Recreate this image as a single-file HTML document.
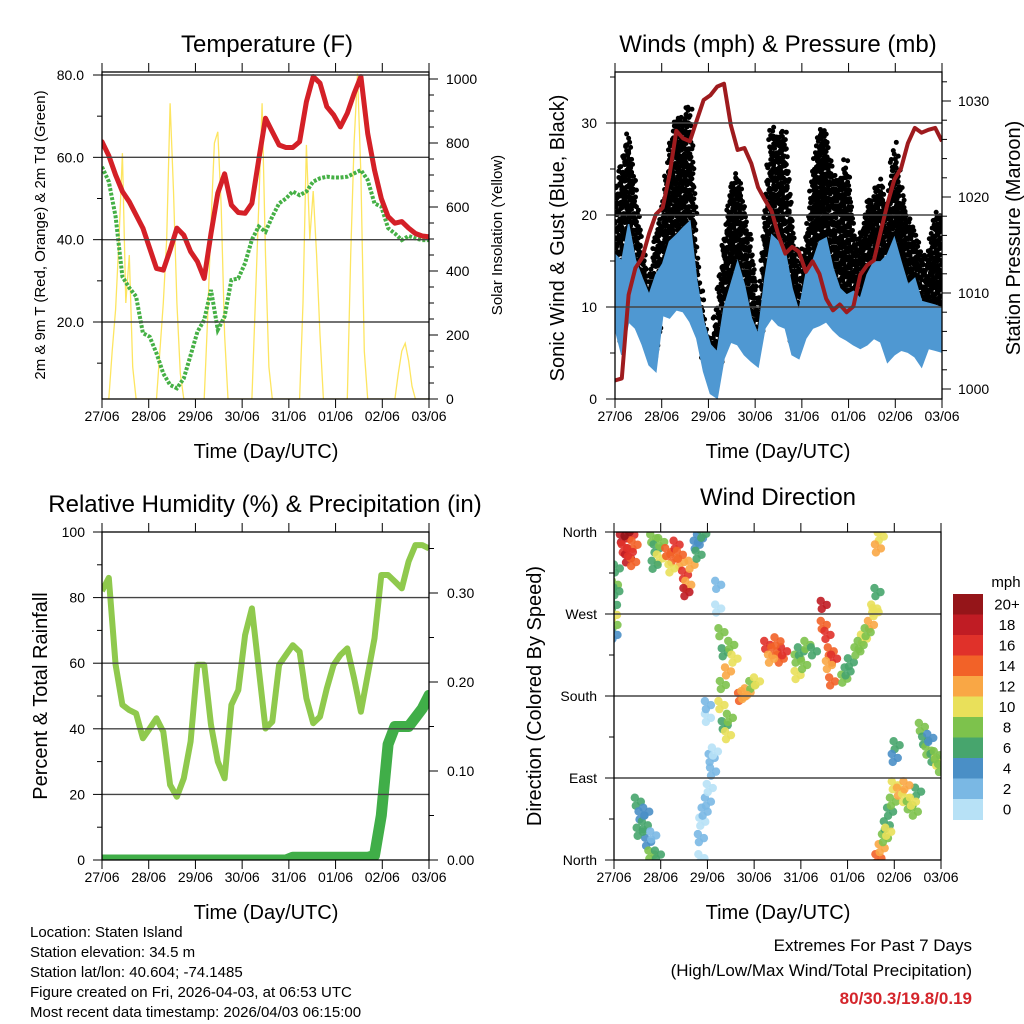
<!DOCTYPE html>
<html><head><meta charset="utf-8"><title>Station Meteogram</title>
<style>html,body{margin:0;padding:0;background:#fff;}svg{display:block;}</style></head>
<body>
<svg id="c" width="1024" height="1024" xmlns="http://www.w3.org/2000/svg" font-family="'Liberation Sans', Arial, sans-serif">
<rect width="1024" height="1024" fill="#fff"/>
<defs>
<clipPath id="cp1"><rect x="102" y="72" width="327" height="327"/></clipPath>
<clipPath id="cp2"><rect x="615" y="72" width="327" height="327"/></clipPath>
<clipPath id="cp3"><rect x="102" y="532" width="327" height="328"/></clipPath>
<clipPath id="cp4"><rect x="614" y="532" width="327" height="328"/></clipPath>
</defs>
<text x="267" y="52" font-size="24" text-anchor="middle">Temperature (F)</text>
<text x="778" y="52" font-size="24" text-anchor="middle">Winds (mph) &amp; Pressure (mb)</text>
<text x="265" y="512" font-size="24" text-anchor="middle">Relative Humidity (%) &amp; Precipitation (in)</text>
<text x="778" y="505" font-size="24" text-anchor="middle">Wind Direction</text>
<text x="266" y="458" font-size="20" text-anchor="middle">Time (Day/UTC)</text>
<text x="778" y="458" font-size="20" text-anchor="middle">Time (Day/UTC)</text>
<text x="266" y="919" font-size="20" text-anchor="middle">Time (Day/UTC)</text>
<text x="778" y="919" font-size="20" text-anchor="middle">Time (Day/UTC)</text>
<text transform="translate(45,235) rotate(-90)" font-size="15" text-anchor="middle">2m &amp; 9m T (Red, Orange) &amp; 2m Td (Green)</text>
<text transform="translate(502,235) rotate(-90)" font-size="15" text-anchor="middle">Solar Insolation (Yellow)</text>
<text transform="translate(564,238) rotate(-90)" font-size="20" text-anchor="middle">Sonic Wind &amp; Gust (Blue, Black)</text>
<text transform="translate(1020,238) rotate(-90)" font-size="20" text-anchor="middle">Station Pressure (Maroon)</text>
<text transform="translate(47,696) rotate(-90)" font-size="20" text-anchor="middle">Percent &amp; Total Rainfall</text>
<text transform="translate(541,696) rotate(-90)" font-size="20" text-anchor="middle">Direction (Colored By Speed)</text>
<g font-size="15">
<text x="30" y="937">Location: Staten Island</text>
<text x="30" y="957">Station elevation: 34.5 m</text>
<text x="30" y="977">Station lat/lon: 40.604; -74.1485</text>
<text x="30" y="997">Figure created on Fri, 2026-04-03, at 06:53 UTC</text>
<text x="30" y="1017">Most recent data timestamp: 2026/04/03 06:15:00</text>
</g>
<text x="972" y="951" font-size="17" text-anchor="end">Extremes For Past 7 Days</text>
<text x="972" y="976" font-size="17" text-anchor="end">(High/Low/Max Wind/Total Precipitation)</text>
<text x="972" y="1004" font-size="17" font-weight="bold" fill="#d4252b" text-anchor="end">80/30.3/19.8/0.19</text>
<text x="1006" y="587" font-size="15" text-anchor="middle">mph</text>
</svg>
<script>
// ---- data (3.5 h samples across 7 days, 49 values) ----
const dayLabels = ["27/06","28/06","29/06","30/06","31/06","01/06","02/06","03/06"];
const tempRed = [63.8,60.4,55.7,51.7,49.2,46.0,42.8,37.9,33.0,32.6,37.5,42.8,41.1,37.1,34.7,30.6,41.5,51.3,56.0,48.4,46.6,46.4,48.8,59.4,69.5,66.2,63.0,62.4,62.4,63.8,73.5,79.6,78.0,72.3,70.3,67.4,70.7,75.5,79.6,65.8,56.9,50.0,45.6,44.0,44.4,42.8,41.5,40.9,40.7];
const dewGreen = [57.7,54.1,45.6,31.0,28.3,26.2,17.3,16.4,12.4,7.5,4.7,3.9,6.3,11.9,17.6,20.5,27.8,18.1,21.3,30.2,30.6,34.3,40.0,43.2,41.9,45.6,48.8,50.0,51.7,50.8,51.7,54.1,54.9,55.3,55.1,55.1,55.3,56.1,56.9,54.5,48.8,48.0,42.8,41.5,39.9,40.9,40.3,39.9,39.9];
// solar at 1.75 h samples (97 values)
const solar = [0,0,0,150,280,500,768,300,450,100,0,0,0,0,0,0,0,150,300,500,924,650,300,80,0,0,0,0,0,0,0,250,550,800,835,600,200,0,0,0,0,0,0,0,0,300,600,924,450,100,0,0,0,0,0,0,0,0,0,300,794,500,650,450,200,0,0,0,0,0,0,0,0,450,800,1017,700,150,0,0,0,0,0,0,0,0,0,80,150,174,120,40,0,0,0,0,0];
const windHigh = [15.7,15,19,15.1,13.1,11.3,13.5,14.7,17.1,17.8,18.6,19.3,12.8,8.4,5.9,5.1,9.9,12.4,14.9,12.4,8.8,7.0,13.1,17.8,17.1,16.0,12.0,9.5,13.5,14.9,17.1,17.5,14.2,12.0,11.3,11.7,10.9,13.5,14.9,14.9,15.7,17.5,14.9,12.4,13.1,10.6,10.4,10.2,9.9];
const windLow = [7.7,4.8,8.4,7.7,5.9,3.7,3.0,9.1,8.8,9.7,9.5,8.4,6.6,3.0,0.6,0.1,4.4,6.2,5.9,4.8,4.1,3.5,7.7,8.8,8.0,7.7,4.8,4.4,6.6,7.7,8.0,8.4,7.5,6.8,6.4,5.9,5.5,5.9,6.6,6.2,4.0,4.8,5.3,5.1,4.6,3.5,5.5,5.3,5.1];
const gustHigh = [21.4,26,29,22.9,16.4,12.4,18,21.0,27.2,30.8,30.5,32.3,15.7,9.1,5.1,10.6,17.1,23.3,24.7,20.7,17.1,8.4,19.6,29.8,28.3,29.4,19.3,14.6,17.1,23.6,29.8,28.7,24.7,23.6,26.5,18.6,17.1,21.4,22.2,24.3,20.3,28,22.9,20.0,18.2,15.7,15.7,20.4,19.3];
const pressure = [1000.9,1001.1,1009.8,1012.6,1013.7,1016.2,1018.2,1018.9,1022.3,1026.9,1026.1,1025.8,1028.0,1030.1,1030.6,1031.5,1031.8,1027.5,1024.9,1025.1,1023.5,1021.0,1019.7,1018.5,1016.0,1014.1,1014.8,1014.3,1012.2,1013.3,1012.0,1009.4,1008.2,1008.8,1008.0,1008.6,1011.9,1012.9,1013.4,1016.4,1019.3,1021.8,1023.0,1025.6,1027.2,1026.7,1027.0,1027.2,1025.8];
const rhVals = [82,86,59.5,47.3,45.7,44.7,37.1,40.1,43.2,39.1,22.9,19.3,24.9,36.1,59.5,59.5,41.2,30.0,24.9,47.3,51.8,68.6,76.7,58.4,40.1,42.2,59.5,62.5,65.5,63.5,49.3,41.7,43.7,52.3,59.5,62.5,64.5,55.4,45.2,56.4,67.6,86.9,86.9,84.9,82.8,91.0,96.0,96.0,95.0];
const precipVals = [0,0,0,0,0,0,0,0,0,0,0,0,0,0,0,0,0,0,0,0,0,0,0,0,0,0,0,0,0.003,0.003,0.003,0.003,0.003,0.003,0.003,0.003,0.003,0.003,0.003,0.003,0.005,0.05,0.13,0.15,0.15,0.15,0.16,0.17,0.185];
// wind direction observations: day offset, direction (deg), speed (mph)
const dirDay = [0.0,0.02,0.06,0.01,0.01,0.0,0.05, 0.19,0.23,0.3,0.37,0.44,0.27,0.41,0.34, 0.84,0.91,0.98,0.87,1.01, 1.16,1.27,1.34,1.44,1.52,1.59,1.55,1.41,1.66,1.23, 1.77,1.84,1.91,1.81, 0.51,0.59,0.66,0.73,0.8,0.55,0.69,0.94,0.84, 1.87,1.86,1.89,1.94,2.01,2.05,2.12,2.09,2.16,2.01,2.01,2.23,2.23, 2.3,2.37,2.44,2.51,2.58,2.3,2.37,2.48,2.44,2.33, 2.72,2.86,2.96,3.06,2.79, 3.28,3.43,3.57,3.36,3.64,3.5, 3.93,4.0,4.14,4.28,3.93,4.07, 4.49,4.57,4.64,4.71,4.49,4.6,4.67, 4.93,5.07,5.21,5.35,5.5,5.6,5.0,5.43,5.28,5.57,5.64, 5.71,5.65, 5.66,5.73,5.8,5.84,5.91,5.97,5.87, 6.01,6.12,6.23,6.33,6.44,6.51,6.26,6.4,6.05,6.01, 6.59,6.66,6.73,6.84,6.94,7.0,6.77,6.91];
const dirDeg = [280,302,320,258,247,269,295, 353,342,331,357,346,360,327,338, 353,342,331,324,349, 338,331,346,327,313,302,294,335,324,320, 346,353,358,335, 64,49,38,20,6,31,53,6,27, 2,24,42,53,64,79,97,112,119,156,170,276,302, 250,228,207,236,221,170,148,156,137,192, 179,184,192,196,181, 236,229,221,221,229,240, 221,229,236,229,203,214, 258,247,229,221,280,214,196, 199,217,229,243,258,272,207,250,236,276,294, 355,342, 2,13,24,38,53,64,31, 82,75,68,60,53,75,82,64,126,112, 146,131,120,112,108,101,134,115];
const dirSpd = [7,9,6,8,5,10,7, 18,17,19,16,15,20,14,17, 9,7,10,6,8, 15,14,17,13,16,12,18,15,13,11, 5,4,7,6, 7,5,6,4,8,7,5,6,3, 1,2,1,2,3,1,2,2,1,1,2,1,3, 8,7,12,9,10,11,7,8,10,9, 14,12,9,10,13, 16,14,15,13,17,14, 8,7,9,6,10,8, 15,17,14,16,18,13,14, 9,7,8,11,12,10,6,9,8,11,7, 11,12, 15,13,8,7,6,9,11, 10,12,11,9,8,7,13,10,6,5, 8,6,9,7,10,9,5,8];
// colorbar
const cbLabels = ["20+","18","16","14","12","10","8","6","4","2","0"];
const cbColors = ["#951519","#c01c24","#e0312a","#f26228","#f9a745","#e9e05a","#7dc24c","#47a56d","#4a8fc6","#7ab8e4","#b7e1f6"];
// tick values
const p1LeftTicks = [80,60,40,20];
const p1LeftLabels = ["80.0","60.0","40.0","20.0"];
const p1RightTicks = [0,200,400,600,800,1000];
const p2LeftTicks = [0,10,20,30];
const p2RightTicks = [1000,1010,1020,1030];
const p3LeftTicks = [0,20,40,60,80,100];
const p3RightTicks = [0,0.1,0.2,0.3];
const p3RightLabels = ["0.00","0.10","0.20","0.30"];
const dirTicks = [0,90,180,270,360];
const dirLabels = ["North","East","South","West","North"];

// ---- rendering ----
const NS = "http://www.w3.org/2000/svg";
const svg = document.getElementById("c");
function el(tag, a, parent){const e=document.createElementNS(NS,tag);for(const k in a)e.setAttribute(k,a[k]);(parent||svg).appendChild(e);return e;}

const P1={x0:102,x1:429,yt:72,yb:399}, P2={x0:615,x1:942,yt:72,yb:399}, P3={x0:102,x1:429,yt:532,yb:860}, P4={x0:614,x1:941,yt:532,yb:860};
function xScale(P){return d=>P.x0+d*(P.x1-P.x0)/7;}
const yTemp=v=>75+(80-v)*247/60;
const ySolar=v=>399-v*0.32;
const yWind=v=>399-v*9.2;
const yPres=p=>389-(p-1000)*9.6;
const yRH=v=>860-v*3.28;
const yPrec=v=>860-v*890;
const yDir=d=>860-d*328/360;
const stepDay=7/48;

function gridY(P,vals,fy,name){
  for(const v of vals){const y=fy(v); if(y<P.yt-1||y>P.yb+1)continue;
    const l=el("line",{x1:P.x0,x2:P.x1,y1:y,y2:y,stroke:"#444","stroke-width":1.4});
    
    }
}
function box(P,name){
  const r=el("rect",{x:P.x0,y:P.yt,width:P.x1-P.x0,height:P.yb-P.yt,fill:"none",stroke:"#000","stroke-width":1.3});
  
  
}
function xAxis(P,ly){
  const xs=xScale(P);
  dayLabels.forEach((lab,i)=>{const x=xs(i);
    const t1=el("line",{x1:x,x2:x,y1:P.yb,y2:P.yb+9,stroke:"#000","stroke-width":1});
    
    
    const t2=el("line",{x1:x,x2:x,y1:P.yt,y2:P.yt-9,stroke:"#000","stroke-width":1});
    
    
    const t=el("text",{x:x,y:ly,"font-size":14,"text-anchor":"middle"});t.textContent=lab;
    
    
  });
}
function yTicks(P,side,vals,labels,fy,lx,minor,name){
  const xe= side==="l"?P.x0:P.x1, dir= side==="l"?-1:1;
  vals.forEach((v,i)=>{const y=fy(v);
    const tk=el("line",{x1:xe,x2:xe+dir*9,y1:y,y2:y,stroke:"#000","stroke-width":1});
    
    
    const t=el("text",{x:lx,y:y+5,"font-size":14,"text-anchor":side==="l"?"end":"start"});t.textContent=labels[i];
    
    
  });
  (minor||[]).forEach(v=>{const y=fy(v); if(y<P.yt||y>P.yb)return;
    const tk=el("line",{x1:xe,x2:xe+dir*5,y1:y,y2:y,stroke:"#000","stroke-width":1});
    
    });
}
function path(pts){return pts.map((p,i)=>(i?"L":"M")+p[0].toFixed(1)+","+p[1].toFixed(1)).join("");}

// ===== Panel 1: Temperature =====
{
  const xs=xScale(P1);
  const g=el("g",{"clip-path":"url(#cp1)"});
  
  
  const sp=el("path",{d:path(solar.map((v,i)=>[xs(i*7/96),ySolar(v)])),fill:"none",stroke:"#fde24f","stroke-width":1.3,opacity:0.9},g);
  
  
  const dp=el("path",{d:path(dewGreen.map((v,i)=>[xs(i*stepDay),yTemp(v)])),fill:"none",stroke:"#45b045","stroke-width":4,"stroke-dasharray":"3 1.6"},g);
  
  
  const tp=el("path",{d:path(tempRed.map((v,i)=>[xs(i*stepDay),yTemp(v)])),fill:"none",stroke:"#d42027","stroke-width":5,"stroke-linejoin":"round","stroke-linecap":"round"},g);
  
  
  gridY(P1,p1LeftTicks,yTemp,'temp-gridline');
  box(P1,'temperature-frame');
  xAxis(P1,421);
  yTicks(P1,"l",p1LeftTicks,p1LeftLabels,yTemp,84,[70,50,30,10],'temp-y');
  yTicks(P1,"r",p1RightTicks,p1RightTicks.map(String),ySolar,446,[50,100,150,250,300,350,450,500,550,650,700,750,850,900,950],'solar-y');
}
// ===== Panel 2: Winds & Pressure =====
{
  const xs=xScale(P2);
  const g=el("g",{"clip-path":"url(#cp2)"});
  
  
  const gd=el("g",{fill:"#000"},g);
  
  
  const SUB=7, pat=[0,0.45,0.15,0.6,0.3,0.75,0.05], jx=[-2,1,-1,2,0,-2,1];
  for(let k=0;k<48;k++){for(let s=0;s<SUB;s++){
    const f=s/SUB, d=(k+f)*stepDay;
    const top=gustHigh[k]+(gustHigh[k+1]-gustHigh[k])*f;
    const lo=windLow[k]+(windLow[k+1]-windLow[k])*f+1.5;
    let row=0;
    for(let v=lo+pat[s];v<=top;v+=0.9){
      const c=el("circle",{cx:xs(d)+jx[(row+s)%7],cy:yWind(v),r:2.5},gd);
      
      
      row++;}
  }}
  const up=windHigh.map((v,i)=>[xs(i*stepDay),yWind(v)]);
  const dn=windLow.map((v,i)=>[xs(i*stepDay),yWind(v)]).reverse();
  const wa=el("path",{d:path(up.concat(dn))+"Z",fill:"#4f98d2",stroke:"#4f98d2","stroke-width":1.5},g);
  
  
  gridY(P2,[10,20,30],yWind,'wind-gridline');
  const pp=el("path",{d:path(pressure.map((v,i)=>[xs(i*stepDay),yPres(v)])),fill:"none",stroke:"#9e1b1e","stroke-width":4,"stroke-linejoin":"round"},g);
  
  
  box(P2,'winds-frame');
  xAxis(P2,421);
  yTicks(P2,"l",p2LeftTicks,p2LeftTicks.map(String),yWind,597,[5,15,25,35],'wind-y');
  const pm=[];for(let p=1000;p<=1034;p+=2)if(p%10)pm.push(p);
  yTicks(P2,"r",p2RightTicks,p2RightTicks.map(String),yPres,958,pm,'pressure-y');
}
// ===== Panel 3: RH & Precip =====
{
  const xs=xScale(P3);
  const g=el("g",{"clip-path":"url(#cp3)"});
  
  
  gridY(P3,[20,40,60,80],yRH,'humidity-gridline');
  const rp=el("path",{d:path(rhVals.map((v,i)=>[xs(i*stepDay),yRH(v)])),fill:"none",stroke:"#8fc94d","stroke-width":6,"stroke-linejoin":"round"},g);
  
  
  const pr=el("path",{d:path(precipVals.map((v,i)=>[xs(i*stepDay),yPrec(v)])),fill:"none",stroke:"#40ae48","stroke-width":11,"stroke-linejoin":"round","stroke-linecap":"round"},g);
  
  
  box(P3,'humidity-frame');
  xAxis(P3,882);
  yTicks(P3,"l",p3LeftTicks,p3LeftTicks.map(String),yRH,85,[10,30,50,70,90],'humidity-y');
  yTicks(P3,"r",p3RightTicks,p3RightLabels,yPrec,447,[0.05,0.15,0.25,0.35],'precip-y');
}
// ===== Panel 4: Wind direction =====
{
  const xs=xScale(P4);
  const g=el("g",{"clip-path":"url(#cp4)"});
  
  
  gridY(P4,[90,180,270],yDir,'direction-gridline');
  const colorFor=s=>cbColors[10-Math.min(10,Math.floor(s/2))];
  const offs=[[-3,-4],[3,0],[-2,4]];
  dirDay.forEach((d,i)=>{
    for(const o of offs){
      const c=el("circle",{cx:xs(d)+o[0],cy:yDir(dirDeg[i])+o[1],r:4.2,fill:colorFor(dirSpd[i]),opacity:0.9},g);
      
      
    }
  });
  box(P4,'direction-frame');
  xAxis(P4,882);
  yTicks(P4,"l",dirTicks,dirLabels,yDir,597,[45,135,225,315],'direction-y');
  const bh=20.5, by=594;
  cbColors.forEach((col,i)=>{
    const r=el("rect",{x:953,y:by+i*bh,width:30,height:bh+0.5,fill:col});
    
    
    const t=el("text",{x:1007,y:by+i*bh+bh/2+5,"font-size":15,"text-anchor":"middle"});t.textContent=cbLabels[i];
    
    
  });
}
</script>
</body></html>
